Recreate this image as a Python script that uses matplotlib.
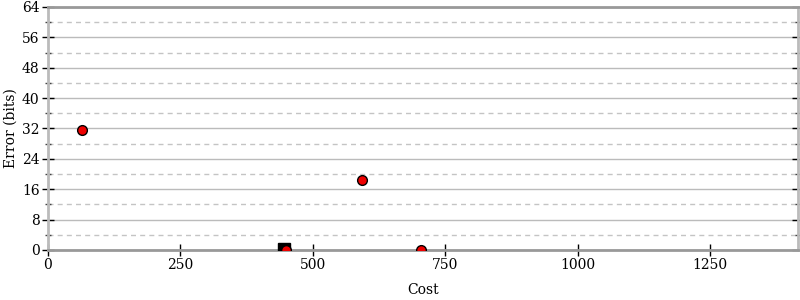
import matplotlib
matplotlib.use("Agg")
import matplotlib.pyplot as plt
from matplotlib.ticker import MultipleLocator

plt.rcParams['font.family'] = ['DejaVu Serif']

# Data
circle_cost = [64, 593, 704, 449]
circle_err = [31.7, 18.4, 0.0, 0.0]
square_cost = [446]
square_err = [0.2]

x_ticks = [0, 250, 500, 750, 1000, 1250]
y_ticks = [0, 8, 16, 24, 32, 40, 48, 56, 64]

fig = plt.figure(figsize=(8, 3), dpi=100)
ax = fig.add_axes([0.06, 0.1667, 0.9375, 0.81])

ax.set_xlim(0, 1416)
ax.set_ylim(0, 64)
ax.set_xticks(x_ticks)
ax.set_yticks(y_ticks)
ax.yaxis.set_minor_locator(MultipleLocator(4))

ax.grid(True, axis='y', which='major', color='#bbbbbb', lw=1, ls='-')
ax.grid(True, axis='y', which='minor', color='#c4c4c4', lw=1, ls=(0, (3.6, 3)))
ax.set_axisbelow(True)

for s in ['left', 'right']:
    ax.spines[s].set_color('#bbbbbb')
    ax.spines[s].set_linewidth(2)
for s in ['top', 'bottom']:
    ax.spines[s].set_color('#999999')
    ax.spines[s].set_linewidth(2)

ax.tick_params(axis='y', which='major', direction='inout', length=8, width=1,
               left=True, right=True, labelsize=10, color='black', pad=2)
ax.tick_params(axis='y', which='minor', direction='inout', length=5, width=1,
               left=True, right=True, color='#444444')
ax.tick_params(axis='x', which='major', direction='inout', length=8, width=1,
               bottom=True, top=False, labelsize=10, color='black', pad=2)

ax.plot(square_cost, square_err, ls='none', marker='s', ms=8, mfc='black',
        mec='black', zorder=3)
ax.plot(circle_cost, circle_err, ls='none', marker='o', ms=7, mfc='#ee0000',
        mec='black', mew=1, zorder=4)

ax.set_xlabel('Cost', fontsize=10, labelpad=8)
ax.set_ylabel('Error (bits)', fontsize=10, labelpad=3)

fig.savefig('out.png', dpi=100)
